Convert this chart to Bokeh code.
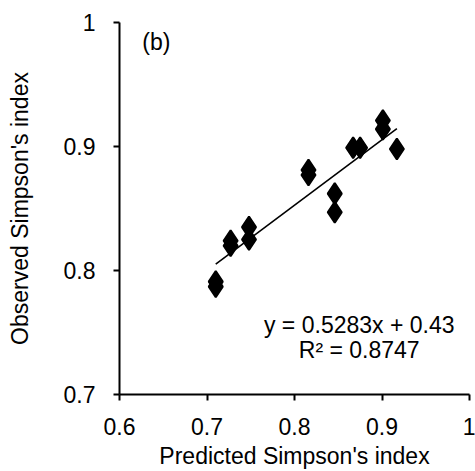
from bokeh.plotting import figure
from bokeh.models import FixedTicker, CustomJSTickFormatter, ColumnDataSource, Range1d
from bokeh.embed import file_html
from bokeh.resources import INLINE
from bokeh.core.properties import value

# Data
predicted = [0.710, 0.710, 0.727, 0.727, 0.748, 0.748, 0.816, 0.816,
             0.846, 0.846, 0.867, 0.875, 0.901, 0.901, 0.917]
observed = [0.791, 0.787, 0.824, 0.820, 0.835, 0.825, 0.881, 0.877,
            0.862, 0.847, 0.899, 0.899, 0.921, 0.914, 0.898]

slope = 0.5283
intercept = 0.43
r2 = 0.8747

x_ticks = [0.6, 0.7, 0.8, 0.9, 1.0]
y_ticks = [0.7, 0.8, 0.9, 1.0]

FONT = "Liberation Sans"
FS = "23px"

p = figure(width=475, height=471,
           x_range=Range1d(0.6, 1.0), y_range=Range1d(0.7, 1.0),
           output_backend="svg", toolbar_location=None,
           min_border_left=119, min_border_top=22, min_border_right=6,
           min_border_bottom=77)
p.outline_line_color = None
p.xgrid.grid_line_color = None
p.ygrid.grid_line_color = None
p.background_fill_color = "white"
p.border_fill_color = "white"

fmt = CustomJSTickFormatter(code="""
var v = Math.round(tick*10)/10;
return (v === 1) ? '1' : v.toFixed(1);
""")

for ax, ticks in ((p.xaxis[0], x_ticks), (p.yaxis[0], y_ticks)):
    ax.ticker = FixedTicker(ticks=ticks)
    ax.formatter = fmt
    ax.minor_tick_line_color = None
    ax.major_tick_in = 0
    ax.major_tick_out = 6
    ax.axis_line_width = 2
    ax.major_tick_line_width = 2
    ax.axis_line_color = "black"
    ax.major_tick_line_color = "black"
    ax.major_label_text_font = FONT
    ax.major_label_text_font_size = FS
    ax.major_label_text_color = "black"
    ax.axis_label_text_font = FONT
    ax.axis_label_text_font_size = FS
    ax.axis_label_text_font_style = "normal"
    ax.axis_label_text_color = "black"

p.xaxis.axis_label = "Predicted Simpson's index"
p.yaxis.axis_label = "Observed Simpson's index"
p.xaxis.major_label_standoff = 17
p.yaxis.major_label_standoff = 18
p.xaxis.axis_label_standoff = 5
p.yaxis.axis_label_standoff = 28

src = ColumnDataSource(dict(x=predicted, y=observed))
p.scatter("x", "y", source=src, marker="diamond", size=21, line_width=2,
          fill_color="black", line_color="black")

xmin, xmax = min(predicted), max(predicted)
p.line([xmin, xmax], [slope * xmin + intercept, slope * xmax + intercept],
       line_color="black", line_width=1.6)

eq_text = f"y = {slope}x + {intercept}"
r2_text = f"R\u00b2 = {r2}"
p.text(x=[0.874], y=[0.756], text=[eq_text], text_align="center",
       text_baseline="middle", text_font=value(FONT), text_font_size=FS,
       text_color="black")
p.text(x=[0.874], y=[0.7355], text=[r2_text], text_align="center",
       text_baseline="middle", text_font=value(FONT), text_font_size=FS,
       text_color="black")
p.text(x=[0.626], y=[0.984], text=["(b)"], text_align="left",
       text_baseline="middle", text_font=value(FONT), text_font_size=FS,
       text_color="black")

open("out.html", "w").write(file_html(p, INLINE))
